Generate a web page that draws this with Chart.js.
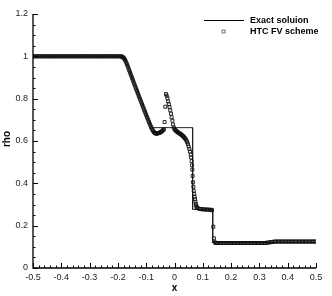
<!DOCTYPE html>
<html>
<head>
<meta charset="utf-8">
<script src="https://cdn.jsdelivr.net/npm/chart.js@4.4.0/dist/chart.umd.min.js"></script>
<style>
  html, body { margin: 0; padding: 0; background: #fff; }
  #wrap { width: 332px; height: 296px; }
</style>
</head>
<body>
<div id="wrap"><canvas id="rhoChart" width="332" height="296"></canvas></div>
<script>
// ---- numerical solution (HTC FV scheme), read off the picture region by region ----
// left state
const xLeft = [-0.5,-0.495,-0.49,-0.485,-0.48,-0.475,-0.47,-0.465,-0.46,-0.455,-0.45,-0.445,-0.44,-0.435,-0.43,-0.425,-0.42,-0.415,-0.41,-0.405,
  -0.4,-0.395,-0.39,-0.385,-0.38,-0.375,-0.37,-0.365,-0.36,-0.355,-0.35,-0.345,-0.34,-0.335,-0.33,-0.325,-0.32,-0.315,-0.31,-0.305,
  -0.3,-0.295,-0.29,-0.285,-0.28,-0.275,-0.27,-0.265,-0.26,-0.255,-0.25,-0.245,-0.24,-0.235,-0.23,-0.225,-0.22,-0.215,-0.21,-0.205,
  -0.2,-0.195,-0.19];
const rhoLeft = [1,1,1,1,1,1,1,1,1,1,1,1,1,1,1,1,1,1,1,1,
  1,1,1,1,1,1,1,1,1,1,1,1,1,1,1,1,1,1,1,1,
  1,1,1,1,1,1,1,1,1,1,1,1,1,1,1,1,1,1,1,1,
  1,1,1];
// rarefaction fan and the dip at its tail
const xFan = [-0.1875,-0.185,-0.1825,-0.18,-0.1775,-0.175,-0.1725,-0.17,-0.1675,-0.165,
  -0.1625,-0.16,-0.1575,-0.155,-0.1525,-0.15,-0.1475,-0.145,-0.1425,-0.14,
  -0.1375,-0.135,-0.1325,-0.13,-0.1275,-0.125,-0.1225,-0.12,-0.1175,-0.115,
  -0.1125,-0.11,-0.1075,-0.105,-0.1025,-0.1,-0.0975,-0.095,-0.0925,-0.09,
  -0.0875,-0.085,-0.0825,-0.08,-0.0775,-0.075,-0.0725,-0.07,-0.0675,-0.065,
  -0.0625,-0.06,-0.0575,-0.055,-0.0525,-0.05,-0.0475,-0.045,-0.0425,-0.04];
const rhoFan = [0.999,0.998,0.996,0.993,0.989,0.984,0.977,0.969,0.961,0.952,
  0.943,0.934,0.925,0.916,0.907,0.898,0.889,0.880,0.871,0.862,
  0.853,0.844,0.836,0.827,0.818,0.809,0.800,0.792,0.783,0.774,
  0.766,0.757,0.748,0.740,0.731,0.723,0.714,0.706,0.697,0.689,
  0.681,0.673,0.665,0.658,0.652,0.646,0.642,0.638,0.636,0.635,
  0.635,0.636,0.637,0.638,0.639,0.641,0.643,0.645,0.648,0.652];
// overshoot spike
const xSpike = [-0.0375,-0.035,-0.0325,-0.03,-0.0275,-0.025,-0.0225,-0.02,-0.0175,-0.015,-0.0125,-0.01,-0.0075,-0.005,-0.0025,0];
const rhoSpike = [0.656,0.690,0.762,0.822,0.814,0.802,0.787,0.774,0.760,0.745,0.729,0.712,0.696,0.678,0.664,0.656];
// shoulder before the contact
const xShoulder = [0.0025,0.005,0.0075,0.01,0.0125,0.015,0.0175,0.02,0.0225,0.025,0.0275,0.03,
  0.0325,0.035,0.0375,0.04,0.0425,0.045,0.0475,0.05,0.0525,0.055,0.0575];
const rhoShoulder = [0.652,0.649,0.646,0.643,0.641,0.638,0.636,0.634,0.632,0.629,0.626,0.623,
  0.620,0.616,0.612,0.607,0.601,0.594,0.585,0.574,0.562,0.550,0.536];
// contact discontinuity
const xContact = [0.059,0.0605,0.062,0.063,0.064,0.065,0.0665,0.068,0.0695,0.071,0.0725,0.074,0.0755,0.077,0.0785,0.08];
const rhoContact = [0.522,0.505,0.485,0.465,0.435,0.405,0.384,0.365,0.350,0.337,0.325,0.313,0.302,0.294,0.287,0.283];
// post-shock plateau and shock
const xPost = [0.085,0.09,0.095,0.1,0.105,0.11,0.115,0.12,0.125,0.13,0.1325,0.137,0.1395];
const rhoPost = [0.281,0.279,0.278,0.277,0.277,0.276,0.276,0.276,0.275,0.275,0.273,0.195,0.140];
// right state
const xRight = [0.1425,0.145,0.15,0.155,0.16,0.165,0.17,0.175,0.18,0.185,0.19,0.195,0.2,0.205,0.21,0.215,0.22,0.225,0.23,0.235,
  0.24,0.245,0.25,0.255,0.26,0.265,0.27,0.275,0.28,0.285,0.29,0.295,0.3,0.305,0.31,0.315,0.32,0.325,0.33,0.335,
  0.34,0.345,0.35,0.355,0.36,0.365,0.37,0.375,0.38,0.385,0.39,0.395,0.4,0.405,0.41,0.415,0.42,0.425,0.43,0.435,
  0.44,0.445,0.45,0.455,0.46,0.465,0.47,0.475,0.48,0.485,0.49,0.495,0.5];
const rhoRight = [0.122,0.118,0.118,0.118,0.118,0.118,0.118,0.118,0.118,0.118,0.118,0.118,0.118,0.118,0.118,0.118,0.118,0.118,0.118,0.118,
  0.118,0.118,0.118,0.118,0.118,0.118,0.118,0.118,0.118,0.118,0.118,0.118,0.118,0.118,0.118,0.118,0.118,0.119,0.120,0.121,
  0.122,0.123,0.124,0.125,0.125,0.125,0.125,0.125,0.125,0.125,0.125,0.125,0.125,0.125,0.125,0.125,0.125,0.125,0.125,0.125,
  0.125,0.125,0.125,0.125,0.125,0.125,0.125,0.125,0.125,0.125,0.125,0.125,0.125];

// ---- exact solution ----
const xExact = [-0.5,-0.178,-0.15,-0.12,-0.1,-0.08,0.064,0.064,0.135,0.135,0.5];
const rhoExact = [1,1,0.903,0.799,0.730,0.663,0.663,0.277,0.277,0.12,0.12];

const FONT = '"Liberation Sans", Arial, Helvetica, sans-serif';

function toPoints(xs, ys) {
  return xs.map((x, i) => ({ x: x, y: ys[i] }));
}

// tecplot-style labels: "1" and "0", not "1.0"
function tickText(value) {
  return String(Math.round(value * 10) / 10);
}

const numPoints = [].concat(
  toPoints(xLeft, rhoLeft),
  toPoints(xFan, rhoFan),
  toPoints(xSpike, rhoSpike),
  toPoints(xShoulder, rhoShoulder),
  toPoints(xContact, rhoContact),
  toPoints(xPost, rhoPost),
  toPoints(xRight, rhoRight)
);
const exactPoints = toPoints(xExact, rhoExact);

// inward tick marks, axis lines, axis titles and the legend box
const tecplotFrame = {
  id: 'tecplotFrame',
  afterDraw(chart) {
    const { ctx, chartArea: a, scales: { x, y } } = chart;
    ctx.save();
    ctx.strokeStyle = '#000';
    ctx.lineWidth = 1;
    ctx.beginPath();
    for (let i = 0; i <= 50; i++) {
      const px = Math.round(x.getPixelForValue(-0.5 + i * 0.02)) + 0.5;
      const len = i % 5 === 0 ? 5 : 2.5;
      ctx.moveTo(px, a.bottom);
      ctx.lineTo(px, a.bottom - len);
    }
    for (let i = 0; i <= 24; i++) {
      const py = Math.round(y.getPixelForValue(i * 0.05)) + 0.5;
      const len = i % 4 === 0 ? 5 : 2.5;
      ctx.moveTo(a.left, py);
      ctx.lineTo(a.left + len, py);
    }
    ctx.stroke();

    // axis lines
    ctx.lineWidth = 1.3;
    ctx.beginPath();
    ctx.moveTo(a.left, a.top);
    ctx.lineTo(a.left, a.bottom);
    ctx.lineTo(a.right, a.bottom);
    ctx.stroke();

    // axis titles
    ctx.fillStyle = '#000';
    ctx.font = 'bold 10px ' + FONT;
    ctx.textAlign = 'center';
    ctx.textBaseline = 'middle';
    ctx.fillText('x', (a.left + a.right) / 2, 288);
    ctx.save();
    ctx.translate(7, 139);
    ctx.rotate(-Math.PI / 2);
    ctx.fillText('rho', 0, 0);
    ctx.restore();

    // legend
    ctx.lineWidth = 1;
    ctx.beginPath();
    ctx.moveTo(204, 20.5);
    ctx.lineTo(244, 20.5);
    ctx.stroke();
    ctx.strokeStyle = '#555';
    ctx.lineWidth = 0.8;
    ctx.strokeRect(222, 30, 3, 3);
    ctx.font = 'bold 9px ' + FONT;
    ctx.textAlign = 'left';
    ctx.fillText('Exact soluion', 250, 20.5);
    ctx.fillText('HTC FV scheme', 250, 31.5);
    ctx.restore();
  }
};

const chartCtx = document.getElementById('rhoChart').getContext('2d');
new Chart(chartCtx, {
  type: 'scatter',
  data: {
    datasets: [
      {
        label: 'HTC FV scheme',
        data: numPoints,
        pointStyle: 'rect',
        pointRadius: 2.1,
        borderColor: '#111',
        borderWidth: 0.9,
        backgroundColor: 'rgba(0,0,0,0)',
        showLine: false
      },
      {
        label: 'Exact soluion',
        data: exactPoints,
        showLine: true,
        borderColor: '#222',
        borderWidth: 1,
        pointRadius: 0,
        tension: 0,
        fill: false
      }
    ]
  },
  options: {
    responsive: false,
    animation: false,
    devicePixelRatio: 1,
    layout: { padding: { top: 14, right: 16, left: 0, bottom: 0 } },
    plugins: {
      legend: { display: false },
      tooltip: { enabled: false }
    },
    scales: {
      x: {
        type: 'linear',
        min: -0.5,
        max: 0.5,
        afterFit(scale) { scale.height = 28; },
        grid: { display: false, drawTicks: false },
        border: { display: false },
        ticks: {
          stepSize: 0.1,
          padding: 4,
          maxRotation: 0,
          autoSkip: false,
          color: '#222',
          font: { family: FONT, size: 9 },
          callback: tickText
        }
      },
      y: {
        type: 'linear',
        min: 0,
        max: 1.2,
        afterFit(scale) { scale.width = 33; },
        grid: { display: false, drawTicks: false },
        border: { display: false },
        ticks: {
          stepSize: 0.2,
          padding: 5,
          color: '#222',
          font: { family: FONT, size: 9 },
          callback: tickText
        }
      }
    }
  },
  plugins: [tecplotFrame]
});
</script>
</body>
</html>
